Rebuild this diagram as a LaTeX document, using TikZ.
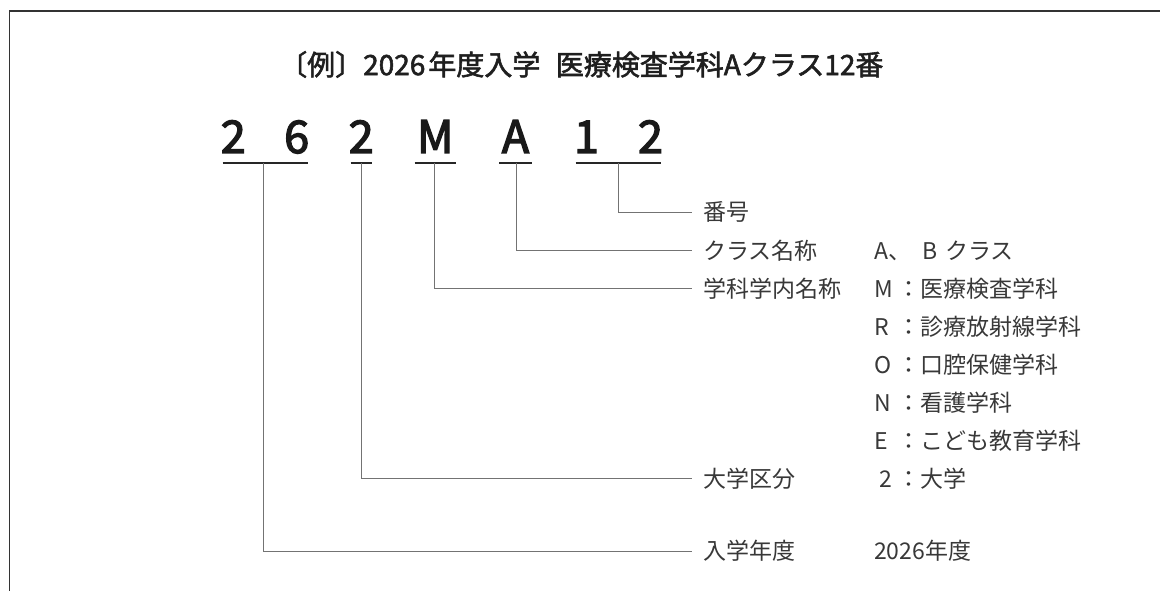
\documentclass[tikz,border=0pt]{standalone}
\usepackage{fontspec}
\setmainfont{Noto Sans CJK JP}
\newfontfamily\jpreg{Noto Sans CJK JP}
\newfontfamily\jpmed[FakeBold=2]{Noto Sans CJK JP}
\newfontfamily\jpcode[FakeBold=3]{Noto Sans CJK JP}
\newcommand\lettbox[1]{\makebox[23pt][l]{#1}}
\begin{document}
\begin{tikzpicture}[x=1pt,y=-1pt,
  frame/.style={draw=black!80, line width=1.3pt},
  uline/.style={draw=black!85, line width=1.2pt},
  leader/.style={draw=black!55, line width=1pt},
  codech/.style={font=\jpcode\fontsize{45}{45}\selectfont, text=black!90, inner sep=0pt, anchor=base},
  titletxt/.style={font=\jpmed\fontsize{28}{28}\selectfont, text=black!88, inner sep=0pt, anchor=west, text height=24.6pt, text depth=3.4pt},
  lab/.style={font=\jpreg\fontsize{23}{23}\selectfont, text=black!78, inner sep=0pt, anchor=west, text height=20.2pt, text depth=2.8pt},
]
\useasboundingbox (0,0) rectangle (1160,591);
% frame
\coordinate (fTR) at (1160,11);
\coordinate (fTL) at (9.5,11);
\coordinate (fBL) at (9.5,591);
\draw[frame] (fTR) -- (fTL) -- (fBL);
% title
\node[titletxt] (title) at (279,64.5) {〔例〕2026\hspace{3pt}年度入学\hspace{15.5pt}医療検査学科Aクラス12番};
% code characters
\node[codech] (c1) at (233.3,153) {2};
\node[codech] (c2) at (296.7,153) {6};
\node[codech] (c3) at (361.2,153) {2};
\node[codech] (c4) at (435.3,153) {M};
\node[codech] (c5) at (515.5,153) {A};
\node[codech] (c6) at (586.5,153) {1};
\node[codech] (c7) at (650.5,153) {2};
% underline coordinates
\coordinate (u1a) at (222.7,163); \coordinate (u1b) at (307.7,163); \coordinate (u1m) at (263,163);
\coordinate (u2a) at (350.7,163); \coordinate (u2b) at (371.7,163); \coordinate (u2m) at (361.3,163);
\coordinate (u3a) at (414.7,163); \coordinate (u3b) at (456,163);   \coordinate (u3m) at (434.3,163);
\coordinate (u4a) at (499.3,163); \coordinate (u4b) at (531.7,163); \coordinate (u4m) at (516,163);
\coordinate (u5a) at (575.7,163); \coordinate (u5b) at (661,163);   \coordinate (u5m) at (618.7,163);
\draw[uline] (u1a) -- (u1b);
\draw[uline] (u2a) -- (u2b);
\draw[uline] (u3a) -- (u3b);
\draw[uline] (u4a) -- (u4b);
\draw[uline] (u5a) -- (u5b);
% labels
\node[lab] (n1) at (703,212) {番号};
\node[lab] (n2) at (703,250.5) {クラス名称};
\node[lab] (n3) at (703,288.5) {学科学内名称};
\node[lab] (n4) at (703,478.5) {大学区分};
\node[lab] (n5) at (703,551) {入学年度};
% values
\node[lab] (v2) at (874,250.5) {\makebox[48pt][l]{A、}B\hspace{8pt}クラス};
\node[lab] (v3) at (874,288.5) {\lettbox{M}：医療検査学科};
\node[lab] (v3r) at (874,326.5) {\lettbox{R}：診療放射線学科};
\node[lab] (v3o) at (874,364.5) {\lettbox{O}：口腔保健学科};
\node[lab] (v3n) at (874,402.5) {\lettbox{N}：看護学科};
\node[lab] (v3e) at (874,440.5) {\lettbox{E}：こども教育学科};
\node[lab] (v4) at (874,478.5) {\makebox[23pt][c]{2}：大学};
\node[lab] (v5) at (874,551) {2026年度};
% leaders
\draw[leader] (u5m) |- ([xshift=-11pt]n1.west);
\draw[leader] (u4m) |- ([xshift=-11pt]n2.west);
\draw[leader] (u3m) |- ([xshift=-11pt]n3.west);
\draw[leader] (u2m) |- ([xshift=-11pt]n4.west);
\draw[leader] (u1m) |- ([xshift=-11pt]n5.west);
\end{tikzpicture}
\end{document}
